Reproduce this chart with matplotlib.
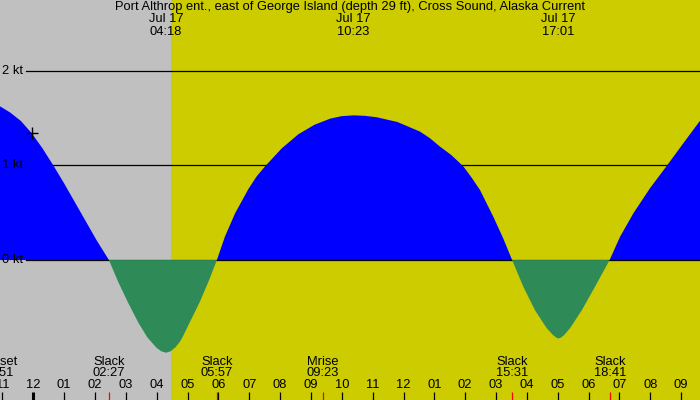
"""
Tidal current chart: Port Althrop ent., Cross Sound, Alaska (Jul 17).
"""

import matplotlib
matplotlib.use('Agg')
import matplotlib.pyplot as plt
import numpy as np

# current speed (hours from midnight Jul 17, knots)
hours = [-1.10, -0.75, -0.40, -0.05, 0.30, 0.65, 1.00, 1.35, 1.70, 2.05, 2.45,
         2.75, 3.07, 3.40, 3.70, 4.00, 4.15, 4.30, 4.45, 4.60, 4.75, 4.86, 5.13,
         5.40, 5.70, 5.95,
         6.21, 6.54, 6.97, 7.24, 7.51, 8.05, 8.59, 9.11, 9.62, 10.00, 10.38, 10.75,
         11.13, 11.80, 12.535, 12.85, 13.18, 13.55, 13.94, 14.20, 14.48, 14.91,
         15.23, 15.52,
         15.88, 16.26, 16.64, 16.85, 16.95, 17.02, 17.10, 17.20, 17.40, 17.78,
         18.21, 18.68,
         19.02, 19.45, 19.99, 20.53, 21.07, 21.59, 21.70]
speed = [1.63, 1.56, 1.47, 1.34, 1.18, 1.00, 0.81, 0.61, 0.41, 0.21, 0.0,
         -0.23, -0.45, -0.66, -0.82, -0.93, -0.965, -0.98, -0.965, -0.925, -0.865, -0.80, -0.62,
         -0.44, -0.21, 0.0,
         0.247, 0.494, 0.75, 0.885, 0.99, 1.18, 1.33, 1.43, 1.495, 1.522, 1.53, 1.525,
         1.51, 1.46, 1.358, 1.29, 1.20, 1.11, 0.99, 0.875, 0.74, 0.458,
         0.23, 0.0,
         -0.28, -0.53, -0.72, -0.795, -0.82, -0.83, -0.82, -0.795, -0.72, -0.53,
         -0.28, 0.0,
         0.247, 0.494, 0.76, 0.995, 1.235, 1.464, 1.50]

# marker on the curve
mark_hour = -0.05
mark_speed = 1.34

# daylight starts here (sunset is past the right edge)
sunrise_hour = 4.45

# max flood / ebb labels at the top
top_hours = [4.30, 10.383, 17.017]
top_dates = ['Jul 17', 'Jul 17', 'Jul 17']
top_times = ['04:18', '10:23', '17:01']

# events along the bottom
event_names = ['Sunset', 'Slack', 'Slack', 'Mrise', 'Slack', 'Slack']
event_times = ['22:51', '02:27', '05:57', '09:23', '15:31', '18:41']
event_hours = [-1.15, 2.45, 5.95, 9.383, 15.517, 18.683]

# hour ticks
tick_hours = list(range(-1, 22))
tick_labels = ['11', '12', '01', '02', '03', '04', '05', '06', '07', '08', '09', '10',
               '11', '12', '01', '02', '03', '04', '05', '06', '07', '08', '09']

kt_levels = [0, 1, 2]
kt_labels = ['0 kt', '1 kt', '2 kt']

title = 'Port Althrop ent., east of George Island (depth 29 ft), Cross Sound, Alaska Current'

x_min, x_max = -1.08, 21.61
y_min, y_max = -1.48, 2.75

plt.rcParams['font.family'] = ['Liberation Sans', 'DejaVu Sans']
FS = 9.3

fig = plt.figure(figsize=(7, 4), dpi=100)
ax = fig.add_axes([0, 0, 1, 1])
ax.set_xlim(x_min, x_max)
ax.set_ylim(y_min, y_max)
ax.axis('off')

# night / day background
ax.axvspan(x_min, sunrise_hour, color='#c0c0c0', zorder=0, lw=0)
ax.axvspan(sunrise_hour, x_max, color='#cccc00', zorder=0, lw=0)

# knot lines (the 1 and 2 kt lines sit behind the flood fill)
for lvl, lab in zip(kt_levels, kt_labels):
    ax.axhline(lvl, xmin=26 / 700, xmax=1, color='black', lw=0.9,
               zorder=1 if lvl else 2.5)
    ax.text(x_min + 2 / 30.85, lvl, lab, fontsize=FS, ha='left', va='center', zorder=5)

t = np.array(hours)
v = np.array(speed)
ax.fill_between(t, v, 0, where=v >= 0, interpolate=True, color='#0000ff', lw=0, zorder=2)
ax.fill_between(t, v, 0, where=v <= 0, interpolate=True, color='#2e8b57', lw=0, zorder=3)

ax.plot([mark_hour], [mark_speed], marker='+', color='black', ms=9, mew=1, zorder=6)

tr = ax.get_xaxis_transform()

# title and top labels
ax.text(0.5, 1 - 7 / 400, title, transform=ax.transAxes, fontsize=FS,
        ha='center', va='center')
for h, d, s in zip(top_hours, top_dates, top_times):
    ax.text(h, 1 - 19.5 / 400, d, transform=tr, fontsize=FS, ha='center', va='center')
    ax.text(h, 1 - 32 / 400, s, transform=tr, fontsize=FS, ha='center', va='center')

# bottom events
for h, n, s in zip(event_hours, event_names, event_times):
    ax.text(h, 1 - 362 / 400, n, transform=tr, fontsize=FS, ha='center', va='center')
    ax.text(h, 1 - 373.5 / 400, s, transform=tr, fontsize=FS, ha='center', va='center')
    ax.vlines(h, 0, 8 / 400, transform=tr, color='red', lw=0.9, zorder=6)

# hour ticks
for h, lab in zip(tick_hours, tick_labels):
    ax.text(h, 1 - 385.5 / 400, lab, transform=tr, fontsize=FS, ha='center', va='center')
    ax.vlines(h, 0, 8 / 400, transform=tr, color='black',
              lw=2.2 if h == 0 else 0.9, zorder=6)

fig.savefig('out.png', dpi=100)
